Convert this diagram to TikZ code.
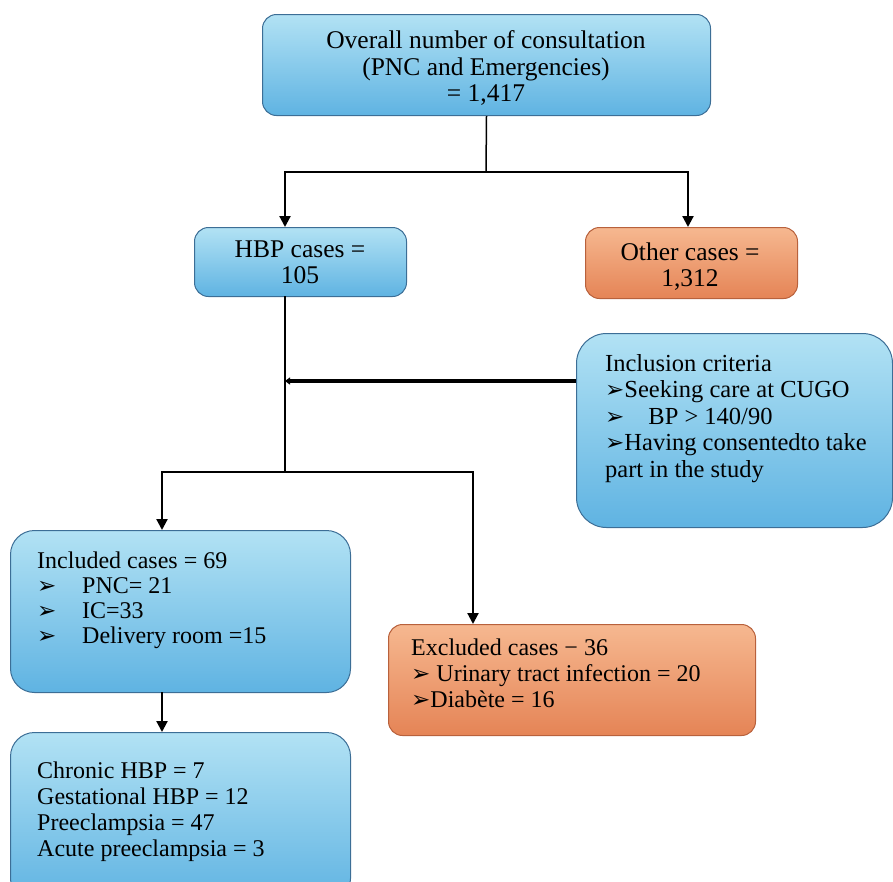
\documentclass[tikz,border=0pt]{standalone}
\usepackage{fontspec}
\setmainfont{Liberation Serif}
\newfontfamily\djv{DejaVu Sans}
\usetikzlibrary{arrows.meta}
\definecolor{bluetop}{HTML}{B2E2F4}
\definecolor{bluebot}{HTML}{5FB3E2}
\definecolor{bluedraw}{HTML}{3C6E96}
\definecolor{orangetop}{HTML}{F6B890}
\definecolor{orangebot}{HTML}{E58456}
\definecolor{orangedraw}{HTML}{B8613C}
\newcommand{\bul}{{\djv\fontsize{23}{23}\selectfont ➢}}
\begin{document}
\begin{tikzpicture}[x=1pt,y=-1pt,
  bluebox/.style={draw=bluedraw, line width=1pt, rounded corners=14pt, top color=bluetop, bottom color=bluebot, inner sep=0pt, anchor=north west},
  orangebox/.style={draw=orangedraw, line width=1pt, rounded corners=14pt, top color=orangetop, bottom color=orangebot, inner sep=0pt, anchor=north west},
  lbl/.style={inner sep=0pt, font=\fontsize{24}{26}\selectfont},
  biglbl/.style={inner sep=0pt, font=\fontsize{25.5}{26.5}\selectfont},
  thinline/.style={line width=1.5pt},
  conn/.style={line width=2.2pt, -{Triangle[length=11pt,width=11pt]}},
]
\useasboundingbox (0,0) rectangle (893,881);

% boxes
\node[bluebox, minimum width=448pt, minimum height=101pt] (top) at (262,14) {};
\node[bluebox, minimum width=212pt, minimum height=69pt] (hbp) at (194,227) {};
\node[orangebox, minimum width=212pt, minimum height=71pt] (other) at (585,227) {};
\node[bluebox, rounded corners=30pt, minimum width=316pt, minimum height=194pt] (crit) at (576,333) {};
\node[bluebox, rounded corners=24pt, minimum width=340pt, minimum height=162pt] (inc) at (10,530) {};
\node[orangebox, minimum width=367pt, minimum height=111pt] (exc) at (388,624) {};
\node[bluebox, rounded corners=24pt, minimum width=340pt, minimum height=170pt] (res) at (10,732) {};

% texts
\node[biglbl, align=center, anchor=north] (toptxt) at (486,30.5) {Overall number of consultation\\(PNC and Emergencies)\\= 1,417};
\node[biglbl, align=center, anchor=north] (hbptxt) at (300,240.5) {HBP cases =\\105};
\node[biglbl, align=center, anchor=north] (othertxt) at (690,242.5) {Other cases =\\1,312};
\node[lbl, align=left, anchor=north west, font=\fontsize{24.5}{26.5}\selectfont] (crittxt) at (605,354) {Inclusion criteria\\
\bul Seeking care at CUGO\\
\bul\hspace{24pt}BP > 140/90\\
\bul Having consentedto take\\
part in the study};
\node[lbl, align=left, anchor=north west, font=\fontsize{24}{25}\selectfont] (inctxt) at (37,551.5) {Included cases = 69\\
\makebox[45pt][l]{\bul}PNC= 21\\
\makebox[45pt][l]{\bul}IC=33\\
\makebox[45pt][l]{\bul}Delivery room =15};
\node[lbl, align=left, anchor=north west] (exctxt) at (411,638.5) {Excluded cases − 36\\
\bul\hspace{6pt}Urinary tract infection = 20\\
\bul Diabète = 16};
\node[lbl, align=left, anchor=north west] (restxt) at (37,761.5) {Chronic HBP = 7\\
Gestational HBP = 12\\
Preeclampsia = 47\\
Acute preeclampsia = 3};

% connectors
\coordinate (j1) at (486,172);
\coordinate (hbpin) at (285,227);
\coordinate (othin) at (688,227);
\draw[thinline] (top.south) -- (j1);
\draw[conn] (j1) -| (hbpin);
\draw[conn] (j1) -| (othin);

\coordinate (hbpout) at (285,296);
\coordinate (j2) at (285,472);
\coordinate (incin) at (162,530);
\coordinate (excin) at (473,624);
\draw[thinline] (hbpout) -- (j2);
\draw[conn] (j2) -| (incin);
\draw[conn] (j2) -| (excin);

\coordinate (critout) at (576,381);
\coordinate (critin) at (285,381);
\draw[line width=4pt, -{Triangle[length=5pt,width=7pt]}] (critout) -- (critin);

\coordinate (incout) at (162,692);
\coordinate (resin) at (162,732);
\draw[conn] (incout) -- (resin);
\end{tikzpicture}
\end{document}
